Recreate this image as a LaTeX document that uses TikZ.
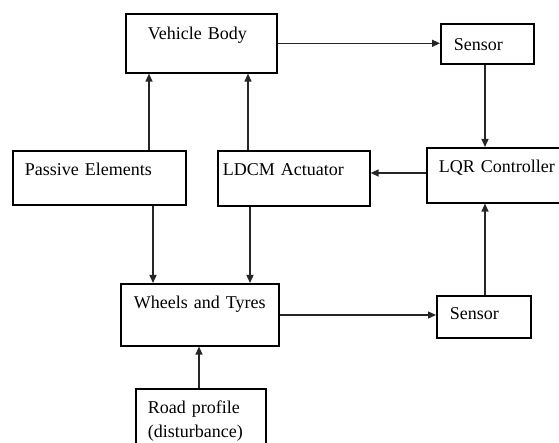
\documentclass[tikz,border=0pt]{standalone}
\usepackage{fontspec}
\setmainfont{Liberation Serif}
\usetikzlibrary{arrows.meta}

\tikzset{
  box/.style={draw, line width=1.6pt, anchor=north west, inner ysep=0pt,
    align=left, font=\fontsize{18}{24}\selectfont},
  arr/.style={-{Triangle[length=8pt,width=7pt]}, line width=1.3pt, draw=black!85},
}

\begin{document}
\begin{tikzpicture}[x=1pt,y=-1pt]
                \useasboundingbox (0,0) rectangle (559,443);
                \clip (0,0) rectangle (559,443);
                
                % Block vehicle body
                \node[box, inner xsep=22pt, text width=107pt, text height=26pt, text depth=33pt] (vb) at (125,13) {Vehicle Body};
                
                % Block upper sensor
                \node[box, inner xsep=13pt, text width=67pt, text height=27pt, text depth=13pt] (s1) at (440,23) {Sensor};
                
                % Block controller
                \node[box, inner xsep=12pt, text width=126pt, text height=25pt, text depth=30pt] (lqr) at (426,147) {LQR Controller};
                
                % Block actuator
                \node[box, inner xsep=5pt, text width=142pt, text height=25pt, text depth=30pt] (ldcm) at (217,150) {LDCM Actuator};
                
                % Block passive elements
                \node[box, inner xsep=12pt, text width=149pt, text height=25pt, text depth=29pt] (pe) at (12,150) {Passive Elements};
                
                % Block wheels
                \node[box, inner xsep=13pt, text width=132pt, text height=25pt, text depth=37pt] (wt) at (120,283) {Wheels and Tyres};
                
                % Block lower sensor
                \node[box, inner xsep=13pt, text width=68pt, text height=24pt, text depth=18pt] (s2) at (436,295) {Sensor};
                
                % Block road input
                \node[box, inner xsep=12pt, text width=106pt, text height=25pt, text depth=57pt] (rp) at (135,388) {Road profile\\(disturbance)};
                
                % Drawing arrow vb s1
                \draw[arr] (vb.east) -- (vb.east -| s1.west);
                
                % Drawing arrow s1 lqr
                \draw[arr] (485,0 |- s1.south) -- (485,0 |- lqr.north);
                
                % Drawing arrow lqr ldcm
                \draw[arr] (lqr.west |- 0,173) -- (ldcm.east |- 0,173);
                
                % Drawing arrows pe vb, ldcm vb
                \draw[arr] (149,0 |- pe.north) -- (149,0 |- vb.south);
                \draw[arr] (248,0 |- ldcm.north) -- (248,0 |- vb.south);
                
                % Drawing arrows pe wt, ldcm wt
                \draw[arr] (153,0 |- pe.south) -- (153,0 |- wt.north);
                \draw[arr] (250,0 |- ldcm.south) -- (250,0 |- wt.north);
                
                % Drawing arrow rp wt
                \draw[arr] (199,0 |- rp.north) -- (199,0 |- wt.south);
                
                % Drawing arrow wt s2
                \draw[arr] (wt.east |- 0,315) -- (s2.west |- 0,315);
                
                % Drawing arrow s2 lqr
                \draw[arr] (485,0 |- s2.north) -- (485,0 |- lqr.south);
\end{tikzpicture}
\end{document}
